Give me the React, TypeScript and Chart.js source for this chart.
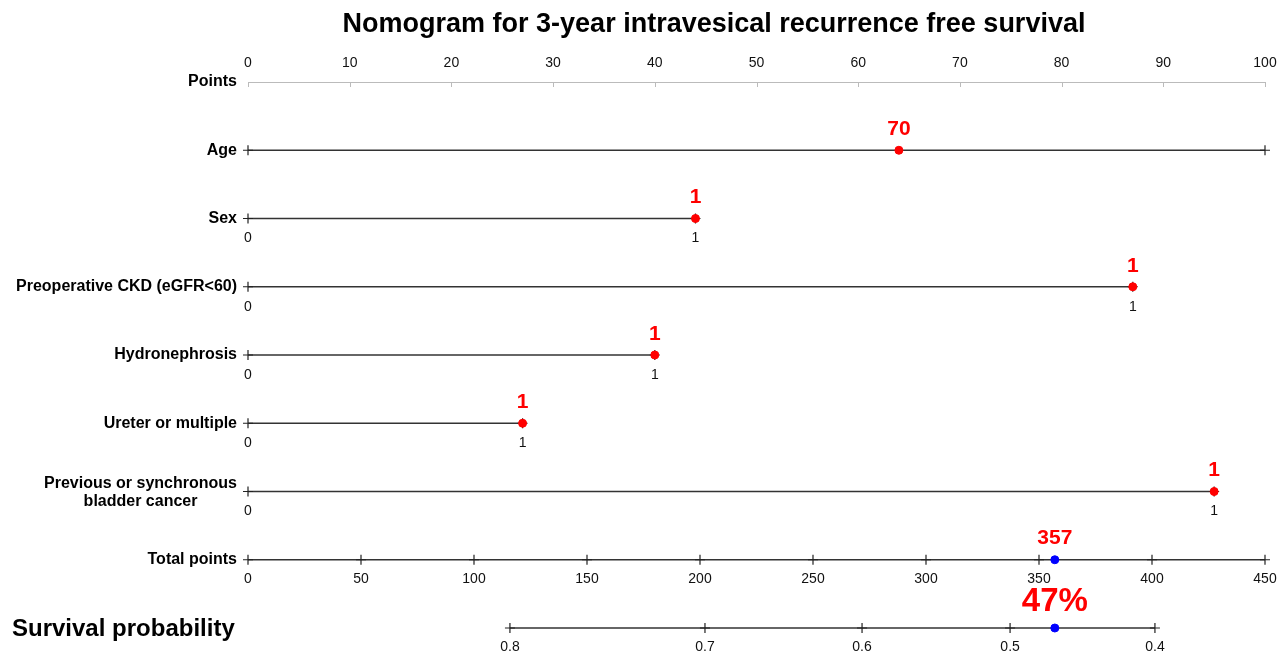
import React, { useEffect, useRef } from 'react';
import { Chart, registerables } from 'chart.js';

Chart.register(...registerables);

const FONT = "'Liberation Sans', Arial, Helvetica, sans-serif";

const titleText = 'Nomogram for 3-year intravesical recurrence free survival';
const pointsAxisLabel = 'Points';
const variableNames = [
  'Age',
  'Sex',
  'Preoperative CKD (eGFR<60)',
  'Hydronephrosis',
  'Ureter or multiple',
  'Previous or synchronous\nbladder cancer',
];
const variableMaxPoints = [100, 44, 87, 40, 27, 95];
const variableEndLabels = [[], ['0', '1'], ['0', '1'], ['0', '1'], ['0', '1'], ['0', '1']];
const patientPoints = [64, 44, 87, 40, 27, 95];
const patientValueLabels = ['70', '1', '1', '1', '1', '1'];
const totalAxisLabel = 'Total points';
const totalTicks = [0, 50, 100, 150, 200, 250, 300, 350, 400, 450];
const survivalAxisLabel = 'Survival probability';
const survivalTickLabels = ['0.8', '0.7', '0.6', '0.5', '0.4'];
const survivalTickTotals = [115.9, 202.2, 271.7, 337.2, 401.3];
const patientTotal = 357;
const patientSurvivalLabel = '47%';

const ROW_TOTAL = variableNames.length + 1;
const ROW_SURV = variableNames.length + 2;

export default function App() {
  const ref = useRef<HTMLCanvasElement | null>(null);

  useEffect(() => {
    if (!ref.current) return;
    const lineStyle = {
      type: 'line' as const,
      showLine: true,
      borderColor: '#333',
      borderWidth: 1.5,
      pointStyle: 'cross' as const,
      pointRadius: 5,
      pointBorderColor: '#222',
      pointBorderWidth: 1.2,
      pointBackgroundColor: '#222',
      clip: false as any,
      order: 2,
    };
    const datasets: any[] = [];
    datasets.push({
      type: 'scatter',
      label: 'patient',
      data: patientPoints.map((p, i) => ({ x: p, y: i + 1 })),
      xAxisID: 'x',
      yAxisID: 'y',
      pointStyle: 'circle',
      pointRadius: 4,
      pointBackgroundColor: '#ff0000',
      pointBorderColor: '#ff0000',
      clip: false,
      order: 0,
    });
    datasets.push({
      type: 'scatter',
      label: 'total',
      data: [
        { x: patientTotal, y: ROW_TOTAL },
        { x: patientTotal, y: ROW_SURV },
      ],
      xAxisID: 'xTotal',
      yAxisID: 'y',
      pointStyle: 'circle',
      pointRadius: 4,
      pointBackgroundColor: '#0000ff',
      pointBorderColor: '#0000ff',
      clip: false,
      order: 0,
    });
    variableNames.forEach((name, i) => {
      datasets.push({
        ...lineStyle,
        label: name,
        data: [
          { x: 0, y: i + 1 },
          { x: variableMaxPoints[i], y: i + 1 },
        ],
        xAxisID: 'x',
        yAxisID: 'y',
      });
    });
    datasets.push({
      ...lineStyle,
      label: totalAxisLabel,
      data: totalTicks.map((t) => ({ x: t, y: ROW_TOTAL })),
      xAxisID: 'xTotal',
      yAxisID: 'y',
    });
    datasets.push({
      ...lineStyle,
      label: survivalAxisLabel,
      data: survivalTickTotals.map((t) => ({ x: t, y: ROW_SURV })),
      xAxisID: 'xTotal',
      yAxisID: 'y',
    });

    const textPlugin = {
      id: 'nomogramText',
      afterDraw(chart: any) {
        const { ctx, chartArea, scales } = chart;
        const x = scales.x;
        const xt = scales.xTotal;
        const y = scales.y;
        ctx.save();
        ctx.strokeStyle = '#bbb';
        ctx.lineWidth = 1;
        x.ticks.forEach((t: any) => {
          const px = Math.round(x.getPixelForValue(t.value)) + 0.5;
          ctx.beginPath();
          ctx.moveTo(px, chartArea.top);
          ctx.lineTo(px, chartArea.top + 5);
          ctx.stroke();
        });

        ctx.fillStyle = '#000';
        ctx.font = `bold 27px ${FONT}`;
        ctx.textAlign = 'center';
        ctx.textBaseline = 'middle';
        ctx.fillText(titleText, 714, 25);

        const labelRight = chartArea.left - 11;
        ctx.font = `bold 16px ${FONT}`;
        ctx.textAlign = 'right';
        ctx.fillText(pointsAxisLabel, labelRight, y.getPixelForValue(0));
        variableNames.forEach((name, i) => {
          const py = y.getPixelForValue(i + 1);
          const lines = name.split('\n');
          if (lines.length === 1) {
            ctx.textAlign = 'right';
            ctx.fillText(name, labelRight, py);
          } else {
            const w = Math.max(...lines.map((l) => ctx.measureText(l).width));
            ctx.textAlign = 'center';
            const lh = 18;
            lines.forEach((l, k) => {
              ctx.fillText(l, labelRight - w / 2, py + 1 + (k - (lines.length - 1) / 2) * lh);
            });
          }
        });
        ctx.textAlign = 'right';
        ctx.fillText(totalAxisLabel, labelRight, y.getPixelForValue(ROW_TOTAL));
        ctx.font = `bold 24px ${FONT}`;
        ctx.textAlign = 'left';
        ctx.fillText(survivalAxisLabel, 12, y.getPixelForValue(ROW_SURV) + 1);

        ctx.font = `14px ${FONT}`;
        ctx.textAlign = 'center';
        ctx.fillStyle = '#111';
        variableEndLabels.forEach((labels, i) => {
          if (!labels.length) return;
          const py = y.getPixelForValue(i + 1) + 20;
          ctx.fillText(labels[0], x.getPixelForValue(0), py);
          ctx.fillText(labels[1], x.getPixelForValue(variableMaxPoints[i]), py);
        });
        totalTicks.forEach((t) => {
          ctx.fillText(String(t), xt.getPixelForValue(t), y.getPixelForValue(ROW_TOTAL) + 19);
        });
        survivalTickLabels.forEach((s, i) => {
          ctx.fillText(s, xt.getPixelForValue(survivalTickTotals[i]), y.getPixelForValue(ROW_SURV) + 19);
        });

        ctx.fillStyle = '#ff0000';
        ctx.font = `bold 21px ${FONT}`;
        patientValueLabels.forEach((s, i) => {
          ctx.fillText(s, x.getPixelForValue(patientPoints[i]), y.getPixelForValue(i + 1) - 21);
        });
        ctx.fillText(String(patientTotal), xt.getPixelForValue(patientTotal), y.getPixelForValue(ROW_TOTAL) - 22);
        ctx.font = `bold 33px ${FONT}`;
        ctx.fillText(patientSurvivalLabel, xt.getPixelForValue(patientTotal), y.getPixelForValue(ROW_SURV) - 26);
        ctx.restore();
      },
    };

    const chart = new Chart(ref.current, {
      type: 'scatter',
      data: { datasets },
      options: {
        animation: false,
        responsive: false,
        layout: { padding: { left: 248, right: 16, top: 53, bottom: 26 } },
        plugins: {
          legend: { display: false },
          tooltip: { enabled: false },
          title: { display: false },
        },
        scales: {
          x: {
            type: 'linear',
            position: 'top',
            min: 0,
            max: 100,
            ticks: { stepSize: 10, color: '#111', font: { family: FONT, size: 14 }, padding: 10 },
            grid: { display: false, drawTicks: false },
            border: { display: true, color: '#bbb', width: 1 },
            afterFit(scale: any) {
              scale.height = 29;
              scale.paddingLeft = 0;
              scale.paddingRight = 0;
            },
          },
          xTotal: {
            type: 'linear',
            display: false,
            min: 0,
            max: 450,
          },
          y: {
            type: 'linear',
            display: false,
            min: 0,
            max: ROW_SURV,
            reverse: true,
          },
        },
      } as any,
      plugins: [textPlugin],
    });
    return () => chart.destroy();
  }, []);

  return (
    <div style={{ position: 'fixed', left: 0, top: 0, width: 1281, height: 654, background: '#fff' }}>
      <canvas ref={ref} width={1281} height={654} />
    </div>
  );
}
